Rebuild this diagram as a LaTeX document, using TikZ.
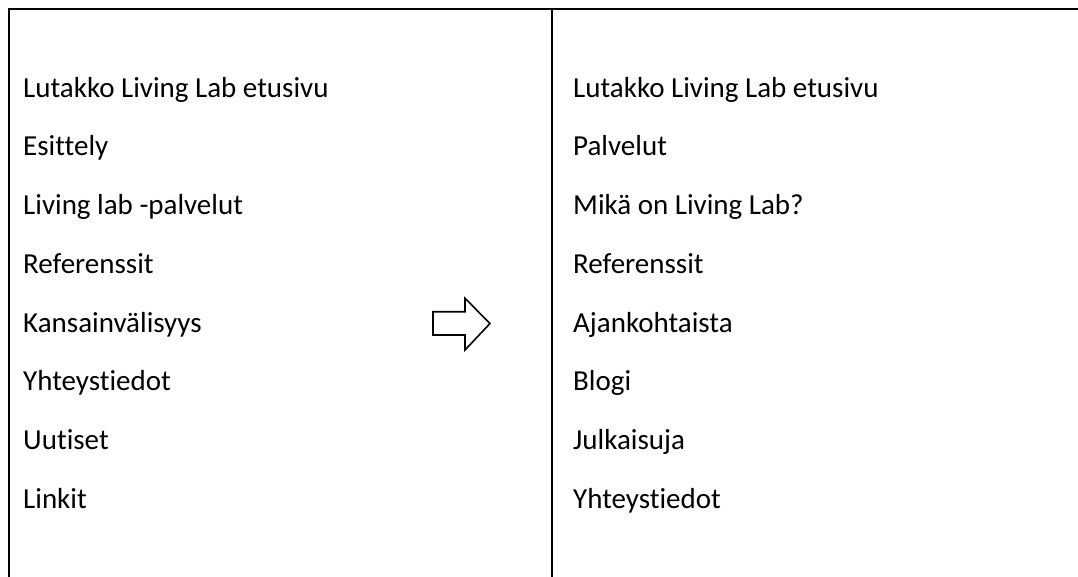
\documentclass[tikz,border=0pt]{standalone}
\usepackage{fontspec}
\setmainfont{Carlito}[Ligatures={NoCommon}]
\tikzset{item/.style={anchor=base west, inner sep=0pt, font=\fontsize{29}{35}\selectfont}}
\tikzset{rule/.style={line width=2.6pt, color=black}}

\begin{document}
\begin{tikzpicture}[x=1pt, y=1pt]
\useasboundingbox (0,0) rectangle (1078,-577);
\coordinate (tl) at (9,-9);
\coordinate (tr) at (1078,-9);
\coordinate (bl) at (9,-577);
\coordinate (mt) at (552,-9);
\coordinate (mb) at (552,-577);
\draw [rule] (bl) -- (tl) -- (tr);
\draw [rule] (mt) -- (mb);
\node (l1) [item] at (23, -97.3) {Lutakko Living Lab etusivu};
\node (l2) [item] at (23, -156.0) {Esittely};
\node (l3) [item] at (23, -214.7) {Living lab -palvelut};
\node (l4) [item] at (23, -273.4) {Referenssit};
\node (l5) [item] at (23, -332.1) {Kansainvälisyys};
\node (l6) [item] at (23, -390.8) {Yhteystiedot};
\node (l7) [item] at (23, -449.5) {Uutiset};
\node (l8) [item] at (23, -508.2) {Linkit};
\node (r1) [item] at (573, -97.3) {Lutakko Living Lab etusivu};
\node (r2) [item] at (573, -156.0) {Palvelut};
\node (r3) [item] at (573, -214.7) {Mikä on Living Lab?};
\node (r4) [item] at (573, -273.4) {Referenssit};
\node (r5) [item] at (573, -332.1) {Ajankohtaista};
\node (r6) [item] at (573, -390.8) {Blogi};
\node (r7) [item] at (573, -449.5) {Julkaisuja};
\node (r8) [item] at (573, -508.2) {Yhteystiedot};
\draw [line width=1.6pt, line join=miter] (433,-311.7) -- (465,-311.7) -- (465,-298.3) -- (490,-323.5)
  -- (465,-350) -- (465,-335) -- (433,-335) -- cycle;
\end{tikzpicture}
\end{document}
